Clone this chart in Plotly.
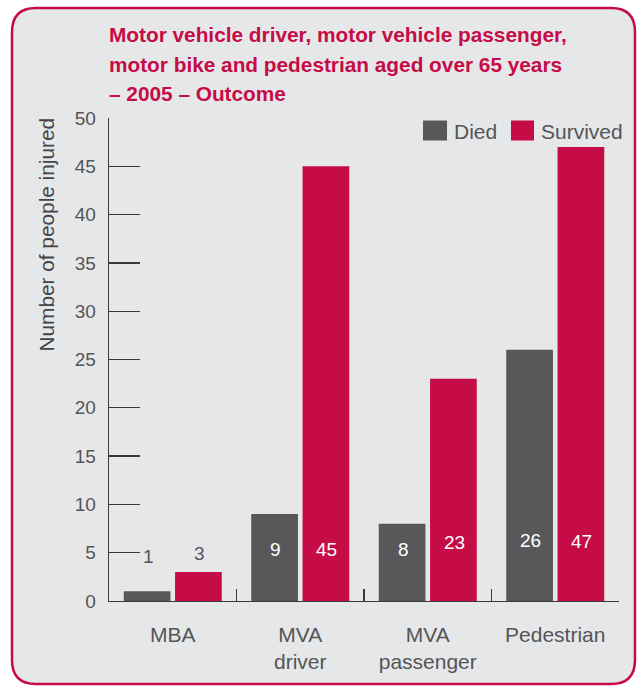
import plotly.graph_objects as go

# ---- data ----
categories = ["MBA", "MVA<br>driver", "MVA<br>passenger", "Pedestrian"]
died = [1, 9, 8, 26]
survived = [3, 45, 23, 47]
series_names = ["Died", "Survived"]
y_ticks = [0, 5, 10, 15, 20, 25, 30, 35, 40, 45, 50]
title_lines = [
    "Motor vehicle driver, motor vehicle passenger,",
    "motor bike and pedestrian aged over 65 years",
    "\u2013 2005 \u2013 Outcome",
]
y_title = "Number of people injured"

# ---- style ----
GRAY = "#58585A"
RED = "#C60C46"
BG = "#E6E7E9"
TXT = "#555557"
FONT = "Liberation Sans, Arial, sans-serif"
W, H = 642, 686
ML, MR, MT, MB = 109, 23, 118, 85
PW, PH = W - ML - MR, H - MT - MB

def px(x):
    return (x - ML) / PW

def py(y):
    return (H - MB - y) / PH

# label heights (style positions, in axis units) for value labels
died_label_y = [4.6, 5.35, 5.35, 6.28]
surv_label_y = [4.87, 5.35, 6.03, 6.13]
label_inside = [False, True, True, True]

fig = go.Figure()
fig.add_trace(go.Bar(x=categories, y=died, name=series_names[0],
                     marker=dict(color=GRAY, line=dict(width=0))))
fig.add_trace(go.Bar(x=categories, y=survived, name=series_names[1],
                     marker=dict(color=RED, line=dict(width=0))))

annotations = []
slot = PW / len(categories) * (1 - 0.195) / 2
for i, c in enumerate(categories):
    col = "white" if label_inside[i] else TXT
    annotations.append(dict(x=c, y=died_label_y[i], xref="x", yref="y",
                            text=str(died[i]), showarrow=False, xshift=-slot / 2 + 1,
                            font=dict(size=19, color=col, family=FONT)))
    annotations.append(dict(x=c, y=surv_label_y[i], xref="x", yref="y",
                            text=str(survived[i]), showarrow=False, xshift=slot / 2 + 1,
                            font=dict(size=19, color=col, family=FONT)))

# title lines
for line, yc in zip(title_lines, [35, 64, 93]):
    annotations.append(dict(x=px(107), y=py(yc), xref="paper", yref="paper",
                            xanchor="left", yanchor="middle", text=line, showarrow=False,
                            font=dict(size=20.8, color=RED, family=FONT, weight=600)))

# y-axis title
annotations.append(dict(x=px(45.5), y=py(235), xref="paper", yref="paper",
                        xanchor="center", yanchor="middle", textangle=-90,
                        text=y_title, showarrow=False,
                        font=dict(size=20.8, color="#444446", family=FONT)))

# custom legend
shapes = []
legend_items = [(series_names[0], GRAY, 423, 447, 452), (series_names[1], RED, 511, 534, 539)]
for name, colr, x0, x1, tx in legend_items:
    shapes.append(dict(type="rect", xref="paper", yref="paper",
                       x0=px(x0), x1=px(x1), y0=py(140.5), y1=py(120.5),
                       fillcolor=colr, line=dict(width=0), layer="above"))
    annotations.append(dict(x=px(tx), y=py(131), xref="paper", yref="paper",
                            xanchor="left", yanchor="middle", text=name, showarrow=False,
                            font=dict(size=21, color=TXT, family=FONT)))

# rounded panel border
L, T, R, B, r = 12, 8, 635, 684, 24
path = (f"M {px(L + r)},{py(T)} L {px(R - r)},{py(T)} Q {px(R)},{py(T)} {px(R)},{py(T + r)} "
        f"L {px(R)},{py(B - r)} Q {px(R)},{py(B)} {px(R - r)},{py(B)} "
        f"L {px(L + r)},{py(B)} Q {px(L)},{py(B)} {px(L)},{py(B - r)} "
        f"L {px(L)},{py(T + r)} Q {px(L)},{py(T)} {px(L + r)},{py(T)} Z")
shapes.insert(0, dict(type="path", path=path, xref="paper", yref="paper",
                      fillcolor=BG, line=dict(color=RED, width=2.5), layer="below"))

fig.update_layout(
    width=W, height=H,
    margin=dict(l=ML, r=MR, t=MT, b=MB, pad=0),
    paper_bgcolor="white", plot_bgcolor="rgba(0,0,0,0)",
    barmode="group", bargap=0.195, bargroupgap=0.09,
    showlegend=False,
    annotations=annotations, shapes=shapes,
    font=dict(family=FONT, color=TXT),
)
fig.update_xaxes(
    showline=True, linecolor="#3a3a3a", linewidth=1.3,
    ticks="inside", tickson="boundaries", ticklen=12, tickwidth=1.3, tickcolor="#3a3a3a",
    tickfont=dict(size=21, color=TXT, family=FONT), ticklabelstandoff=14,
    showgrid=False, zeroline=False, fixedrange=True,
)
fig.update_yaxes(
    range=[0, 50], tickvals=y_ticks, showline=True, linecolor="#3a3a3a", linewidth=1.3,
    ticks="inside", ticklen=31, tickwidth=1.3, tickcolor="#3a3a3a",
    tickfont=dict(size=19, color=TXT, family=FONT), ticklabelstandoff=8,
    showgrid=False, zeroline=False, fixedrange=True,
)

fig.write_html("out.html", config={"displayModeBar": False, "staticPlot": True},
               post_script="document.body.style.margin='0';document.body.style.overflow='hidden';")
